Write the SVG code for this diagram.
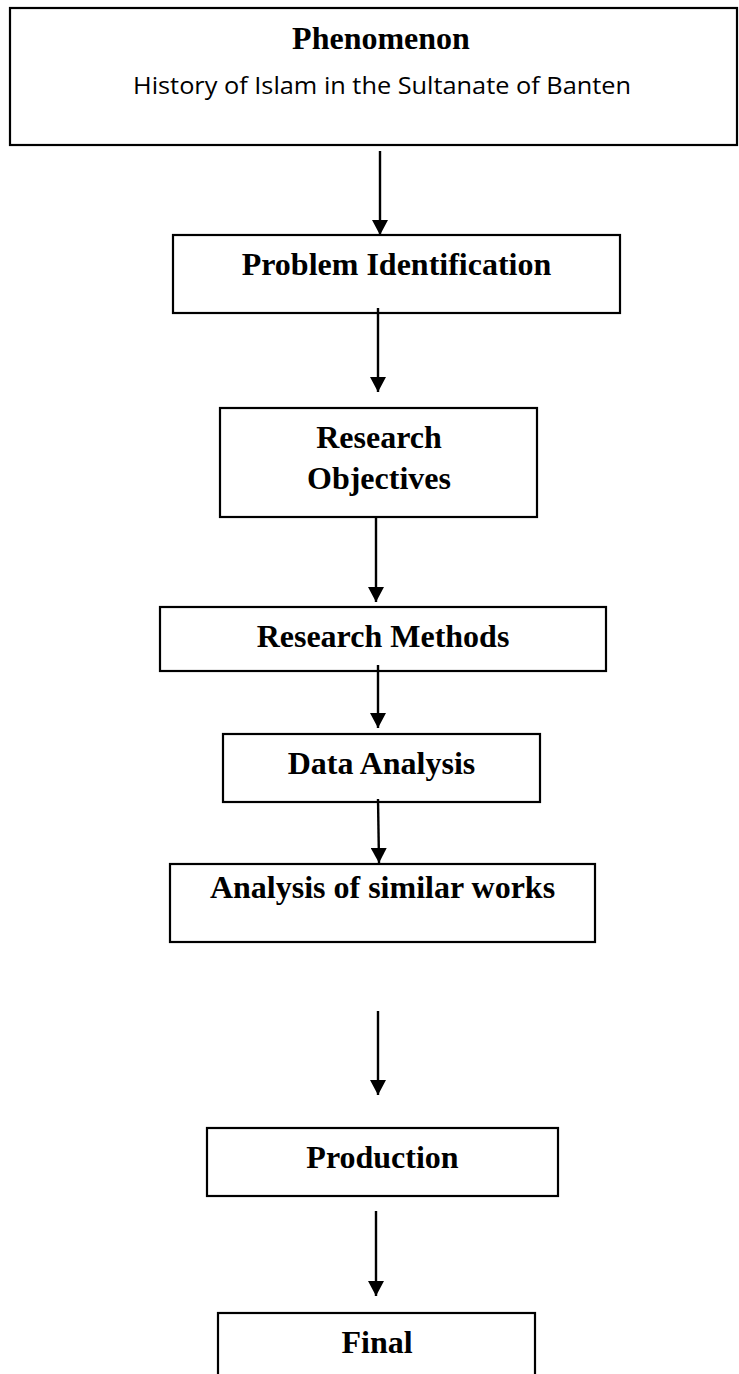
<svg xmlns="http://www.w3.org/2000/svg" width="739" height="1374" viewBox="0 0 739 1374">
<style>
.box{fill:#fff;stroke:#000;stroke-width:2.2}
.t{font-family:"Liberation Serif","Times New Roman",serif;font-weight:bold;font-size:32px;fill:#000;text-anchor:middle}
.s{font-family:"Open Sans","Noto Sans",sans-serif;font-size:23px;fill:#000;text-anchor:middle}
.c{stroke:#000;stroke-width:2.4;fill:none;marker-end:url(#ah)}
</style>
<defs>
<marker id="ah" markerUnits="userSpaceOnUse" markerWidth="15" markerHeight="16" refX="15" refY="8" orient="auto">
<path d="M0,0 L15,8 L0,16 z" fill="#000"/>
</marker>
</defs>
<rect width="739" height="1374" fill="#fff"/>
<g id="n-phenomenon">
<rect class="box" x="10" y="8" width="727" height="137"/>
<text class="t" x="381" y="49">Phenomenon</text>
<text class="s" x="382" y="94" textLength="498" lengthAdjust="spacingAndGlyphs">History of Islam in the Sultanate of Banten</text>
</g>
<g id="n-problem">
<rect class="box" x="173" y="235" width="447" height="78"/>
<text class="t" x="396.5" y="275">Problem Identification</text>
</g>
<g id="n-objectives">
<rect class="box" x="220" y="408" width="317" height="109"/>
<text class="t" x="379" y="448">Research</text>
<text class="t" x="379" y="489">Objectives</text>
</g>
<g id="n-methods">
<rect class="box" x="160" y="607" width="446" height="64"/>
<text class="t" x="383" y="647">Research Methods</text>
</g>
<g id="n-data">
<rect class="box" x="223" y="734" width="317" height="68"/>
<text class="t" x="381.5" y="774">Data Analysis</text>
</g>
<g id="n-similar">
<rect class="box" x="170" y="864" width="425" height="78"/>
<text class="t" x="382.5" y="898">Analysis of similar works</text>
</g>
<g id="n-production">
<rect class="box" x="207" y="1128" width="351" height="68"/>
<text class="t" x="382.5" y="1168">Production</text>
</g>
<g id="n-final">
<rect class="box" x="218" y="1313" width="317" height="80"/>
<text class="t" x="377" y="1353">Final</text>
</g>
<g id="connectors">
<line class="c" x1="380" y1="151" x2="380" y2="235"/>
<line class="c" x1="378" y1="308" x2="378" y2="392"/>
<line class="c" x1="376" y1="517" x2="376" y2="602"/>
<line class="c" x1="378" y1="665" x2="378" y2="728"/>
<line class="c" x1="378" y1="799" x2="379" y2="863"/>
<line class="c" x1="378" y1="1011" x2="378" y2="1095"/>
<line class="c" x1="376" y1="1211" x2="376" y2="1296"/>
</g>
</svg>
